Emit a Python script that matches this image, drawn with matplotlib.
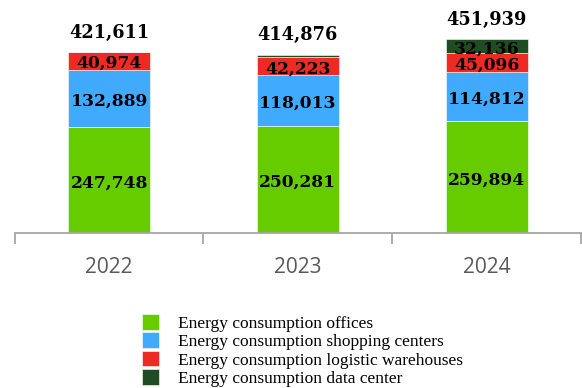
import matplotlib
matplotlib.use("Agg")
import matplotlib.pyplot as plt
import numpy as np

years = ["2022", "2023", "2024"]
series_names = [
    "Energy consumption offices",
    "Energy consumption shopping centers",
    "Energy consumption logistic warehouses",
    "Energy consumption data center",
]
offices = [247748, 250281, 259894]
shopping = [132889, 118013, 114812]
logistic = [40974, 42223, 45096]
datacenter = [0, 4359, 32136]
totals = [421611, 414876, 451939]
show_label = [[True, True, True], [True, True, True], [True, True, True], [False, False, True]]

colors = ["#66CC00", "#40AAFF", "#EE2A24", "#1F4C22"]

fig = plt.figure(figsize=(5.82, 3.88), dpi=100)
ax = fig.add_axes([14.7 / 582, (388 - 233) / 388, (581 - 14.7) / 582, 233 / 388])

x = np.arange(len(years))
series = [offices, shopping, logistic, datacenter]
bottom = np.zeros(len(years))
width = 0.435
num_font = dict(family="DejaVu Serif", weight="bold", color="black")
for s, (vals, col, name) in enumerate(zip(series, colors, series_names)):
    vals = np.array(vals, dtype=float)
    ax.bar(x, vals, width, bottom=bottom, color=col, label=name,
           edgecolor="white", linewidth=0.4)
    for i in range(len(years)):
        if show_label[s][i] and vals[i] > 0:
            ax.annotate(f"{int(vals[i]):,}", (x[i], bottom[i] + vals[i] / 2),
                        xytext=(0, -2), textcoords="offset points",
                        ha="center", va="center", fontsize=12.3, **num_font)
    bottom += vals

for i in range(len(years)):
    ax.annotate(f"{totals[i]:,}", (x[i], bottom[i]), xytext=(0, 14),
                textcoords="offset points", ha="center", va="center",
                fontsize=12.8, **num_font)

ax.set_xlim(-0.5, 2.5)
ax.set_ylim(0, 233 * 421611 / 181)
for sp in ["top", "right", "left"]:
    ax.spines[sp].set_visible(False)
ax.spines["bottom"].set_color("#A6A6A6")
ax.spines["bottom"].set_linewidth(1.3)
ax.set_yticks([])
ax.set_xticks([-0.5, 0.5, 1.5, 2.5])
ax.set_xticklabels([])
ax.tick_params(axis="x", which="major", length=8, width=1.3, color="#A6A6A6", direction="out")
ax.set_xticks(x, minor=True)
ax.set_xticklabels(years, minor=True, fontsize=15, color="#595959", family="Open Sans")
ax.tick_params(axis="x", which="minor", length=0, pad=17.5)

fig.legend(loc="upper left", bbox_to_anchor=(142 / 582, 1 - 314 / 388), frameon=False,
           prop=dict(family="Liberation Serif", size=12.5), borderpad=0, borderaxespad=0,
           handlelength=1.0, handleheight=1.0, handletextpad=1.1, labelspacing=0.04)

fig.savefig("out.png", dpi=100)
